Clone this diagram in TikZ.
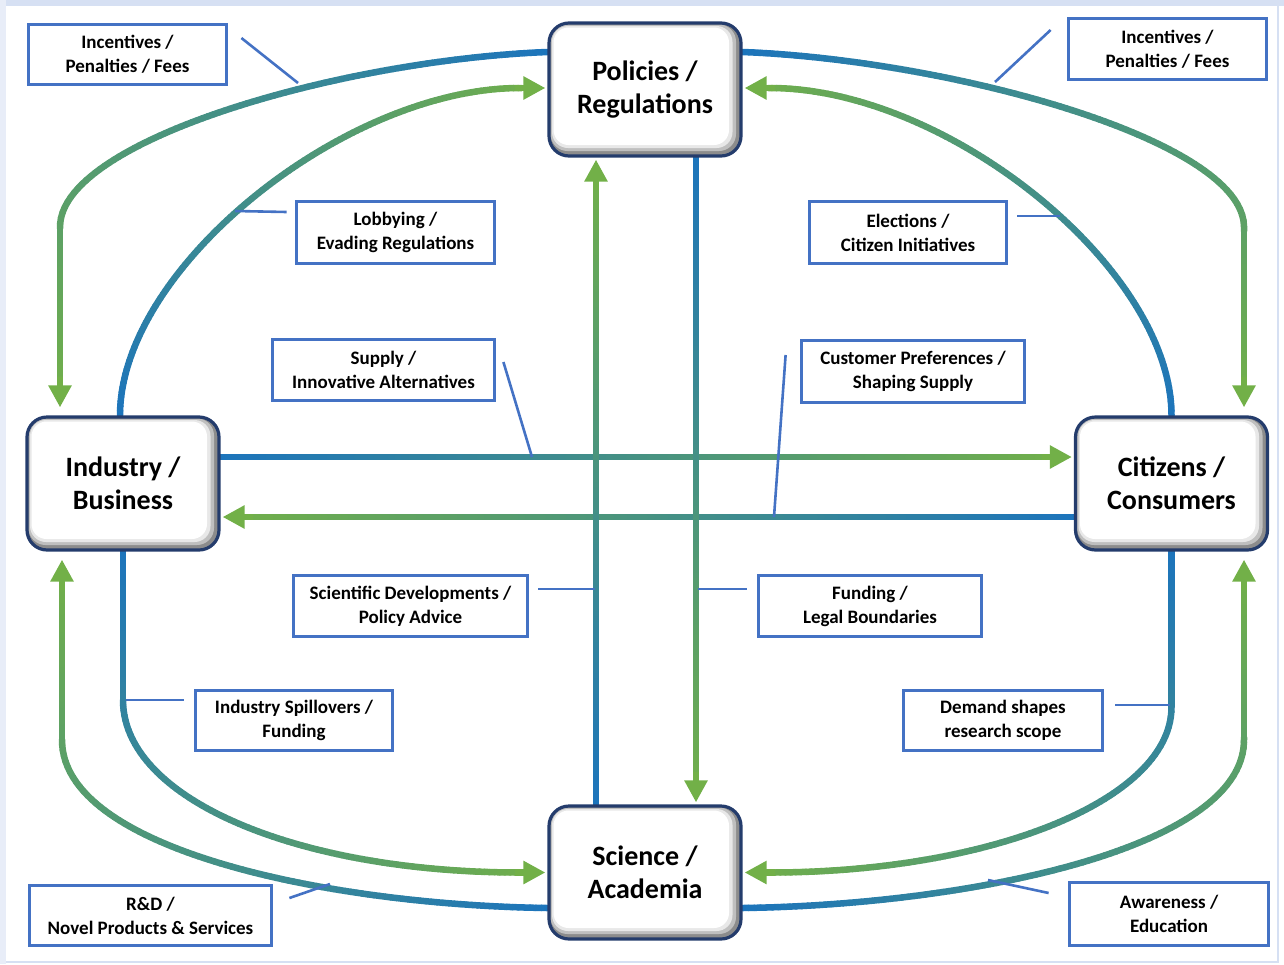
\documentclass[tikz,border=0pt]{standalone}
\usepackage{fontspec}
\setmainfont{Carlito}[BoldFont={Carlito Bold}]
\usetikzlibrary{arrows.meta,calc,decorations.markings}

\definecolor{flowblue}{RGB}{28,116,188}
\definecolor{flowgreen}{RGB}{114,176,72}
\definecolor{tagblue}{RGB}{68,114,196}
\definecolor{boxnavy}{RGB}{36,60,108}
\definecolor{frametop}{RGB}{214,224,243}
\definecolor{frameside}{RGB}{232,237,248}

\pgfdeclarelayer{flows}
\pgfsetlayers{flows,main}

\newcommand\flowseg{%
  \pgfmathtruncatemacro\fpct{100*(\pgfkeysvalueof{/pgf/decoration/mark info/distance from start}/\pgfdecoratedpathlength)}%
  \coordinate (fcur) at (0pt,0pt);
  \draw[line width=6.5pt, line cap=round, color=flowgreen!\fpct!flowblue] (fprev) -- (fcur);
  \coordinate (fprev) at (0pt,0pt);}

\tikzset{
  % blue-to-green stroke along the path
  flow/.style={postaction={decorate, decoration={markings,
      mark=at position 0 with {\coordinate (fprev) at (0pt,0pt);},
      mark=between positions 0.008 and -21pt step 0.008 with {\flowseg}}}},
  % green end run with its arrow head
  flowtip/.style={draw=flowgreen, line width=6.5pt, -{Triangle[length=22pt,width=22pt]}},
  mainbox/.style={draw=boxnavy, line width=3.2pt, rounded corners=20pt, fill=white,
    minimum width=192pt, minimum height=133pt, inner sep=0pt, align=center,
    font=\fontsize{28}{33}\selectfont\bfseries,
    path picture={
      \fill[black!45] (path picture bounding box.south west) rectangle (path picture bounding box.north east);
      \fill[black!25, rounded corners=17pt] ([shift={(1.5pt,-1.5pt)}]path picture bounding box.north west) rectangle ([shift={(-5pt,5pt)}]path picture bounding box.south east);
      \fill[black!9, rounded corners=16pt] ([shift={(3pt,-3pt)}]path picture bounding box.north west) rectangle ([shift={(-8.5pt,8pt)}]path picture bounding box.south east);
      \fill[white, rounded corners=15pt] ([shift={(4.5pt,-4.5pt)}]path picture bounding box.north west) rectangle ([shift={(-12pt,11pt)}]path picture bounding box.south east);
    }},
  tag/.style={draw=tagblue, line width=2.8pt, fill=white, inner sep=0pt, align=center,
    font=\fontsize{19}{24}\selectfont\bfseries},
  tagline/.style={draw=tagblue, line width=2.6pt}
}

% #1 path up to its end, #2 end coordinate, #3 offset back from the end for the head run
\newcommand\flowpath[3]{%
  \path[flow] #1 (#2);
  \draw[flowtip] ($(#2)+#3$) -- (#2);}

\begin{document}
\begin{tikzpicture}[x=1pt,y=-1pt]
\useasboundingbox (0,0) rectangle (1284,964);

% page frame
\fill[frametop] (0,0) rectangle (1284,6);
\fill[frameside] (0,0) rectangle (6,964);
\draw[frametop, line width=2pt] (1278,6) -- (1278,962) -- (6,962);

% actors
\node[mainbox] (pol) at (645,89.5)   {Policies /\\Regulations};
\node[mainbox] (ind) at (123,483.5)  {Industry /\\Business};
\node[mainbox] (cit) at (1171.5,483.5) {Citizens /\\Consumers};
\node[mainbox] (sci) at (645,872.5)  {Science /\\Academia};

% arrow end points at the actors
\coordinate (e-pol-ind) at ($(ind.north)+(-63,-8)$);
\coordinate (e-ind-pol) at ($(pol.west)+(-2,-1.5)$);
\coordinate (e-pol-cit) at ($(cit.north)+(72.5,-8)$);
\coordinate (e-cit-pol) at ($(pol.east)+(2,-1.5)$);
\coordinate (e-ind-sci) at ($(sci.west)+(-2,0)$);
\coordinate (e-sci-ind) at ($(ind.south)+(-61,8)$);
\coordinate (e-cit-sci) at ($(sci.east)+(2,0)$);
\coordinate (e-sci-cit) at ($(cit.south)+(72.5,8)$);
\coordinate (e-ind-cit) at ($(cit.west)+(-2,-26.5)$);
\coordinate (e-cit-ind) at ($(ind.east)+(2,33.5)$);
\coordinate (e-sci-pol) at ($(pol.south)+(-49,2)$);
\coordinate (e-pol-sci) at ($(sci.north)+(51,-2)$);

% flows between actors
\begin{pgfonlayer}{flows}
  % policies <-> industry
  \flowpath{($(pol.west)+(0,-37.5)$) .. controls (342,60) and (60,140) .. (60,227) --}{e-pol-ind}{(0,-30)}
  \flowpath{($(ind.north)+(-3,0)$) .. controls (120,268) and (345,88) .. (520,88) --}{e-ind-pol}{(-30,0)}
  % policies <-> citizens
  \flowpath{($(pol.east)+(0,-37.5)$) .. controls (950,60) and (1244,140) .. (1244,227) --}{e-pol-cit}{(0,-30)}
  \flowpath{(cit.north) .. controls (1171.5,268) and (947,88) .. (770,88) --}{e-cit-pol}{(30,0)}
  % industry <-> science
  \flowpath{(ind.south) -- (123,700) .. controls (123,800) and (300,872.5) .. (520,872.5) --}{e-ind-sci}{(-30,0)}
  \flowpath{($(sci.west)+(0,35.5)$) .. controls (330,905) and (62,850) .. (62,740) --}{e-sci-ind}{(0,30)}
  % citizens <-> science
  \flowpath{(cit.south) -- (1171.5,707) .. controls (1171.5,800) and (990,872.5) .. (770,872.5) --}{e-cit-sci}{(30,0)}
  \flowpath{($(sci.east)+(0,35.5)$) .. controls (964,905) and (1244,850) .. (1244,740) --}{e-sci-cit}{(0,30)}
  % industry <-> citizens
  \flowpath{($(ind.east)+(0,-26.5)$) --}{e-ind-cit}{(-30,0)}
  \flowpath{($(cit.west)+(0,33.5)$) --}{e-cit-ind}{(30,0)}
  % science <-> policies
  \flowpath{($(sci.north)+(-49,0)$) --}{e-sci-pol}{(0,30)}
  \flowpath{($(pol.south)+(51,0)$) --}{e-pol-sci}{(0,-30)}
\end{pgfonlayer}

% flow labels
\node[tag, minimum width=198pt, minimum height=60pt] (t-ipfl) at (127.5,54.5) {Incentives /\\Penalties / Fees};
\node[tag, minimum width=198pt, minimum height=61pt] (t-ipfr) at (1167.5,49) {Incentives /\\Penalties / Fees};
\node[tag, minimum width=198pt, minimum height=62pt] (t-lobby) at (395.5,232.5) {Lobbying /\\Evading Regulations};
\node[tag, minimum width=197pt, minimum height=62pt] (t-elect) at (908,232.5) {Elections /\\Citizen Initiatives};
\node[tag, minimum width=222pt, minimum height=61pt] (t-supply) at (383.5,370) {Supply /\\Innovative Alternatives};
\node[tag, minimum width=223pt, minimum height=62pt] (t-cust) at (913,371.5) {Customer Preferences /\\Shaping Supply};
\node[tag, minimum width=234pt, minimum height=61pt] (t-sci) at (410.5,606) {Scientific Developments /\\Policy Advice};
\node[tag, minimum width=223pt, minimum height=61pt] (t-fund) at (870,606) {Funding /\\Legal Boundaries};
\node[tag, minimum width=197pt, minimum height=60pt] (t-spill) at (294,720.5) {Industry Spillovers /\\Funding};
\node[tag, minimum width=199pt, minimum height=60pt] (t-demand) at (1003,720.5) {Demand shapes\\research scope};
\node[tag, minimum width=242pt, minimum height=60pt] (t-rd) at (150.5,915.5) {R\&D /\\Novel Products \& Services};
\node[tag, minimum width=199pt, minimum height=63pt] (t-aware) at (1169,914) {Awareness /\\Education};

% label leaders
\draw[tagline] ($(t-ipfl.east)+(13.5,-16.5)$) -- (298,83);
\draw[tagline] ($(t-ipfr.west)+(-16.5,-19)$) -- (995,82);
\draw[tagline] ($(t-lobby.west)+(-8.5,-20.5)$) -- (235,211);
\draw[tagline] ($(t-elect.east)+(9.5,-16.5)$) -- (1060,216);
\draw[tagline] ($(t-supply.east)+(7.5,-8)$) -- (532,457);
\draw[tagline] ($(t-cust.west)+(-14.5,-16.5)$) -- (774,517);
\draw[tagline] ($(t-sci.east)+(9.5,-17)$) -- (595,589);
\draw[tagline] ($(t-fund.west)+(-10.5,-17)$) -- (698,589);
\draw[tagline] ($(t-spill.west)+(-10.5,-20.5)$) -- (126,700);
\draw[tagline] ($(t-demand.east)+(11.5,-15.5)$) -- (1170,705);
\draw[tagline] ($(t-rd.east)+(16.5,-17.5)$) -- (330,884);
\draw[tagline] ($(t-aware.west)+(-19.5,-21)$) -- (988,880);
\end{tikzpicture}
\end{document}
